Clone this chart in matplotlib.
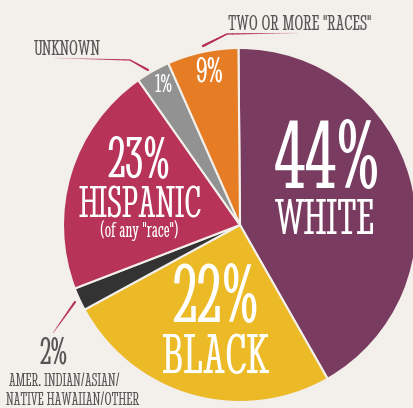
import numpy as np
import matplotlib
matplotlib.use('Agg')
import matplotlib.pyplot as plt

# slice sizes as drawn in the picture (share of the circle), labels as printed
groups = ['WHITE', 'BLACK', 'AMER. INDIAN/ASIAN/\nNATIVE HAWAIIAN/OTHER', 'HISPANIC', 'UNKNOWN', 'TWO OR MORE "RACES"']
shares = [41.9, 25.3, 2.1, 21.1, 3.1, 6.5]
labels = ['44%', '22%', '2%', '23%', '1%', '9%']
colors = ['#7a3b60', '#ebba26', '#333333', '#b73458', '#929292', '#e67d24']

bg = '#f3efea'
grey = '#555555'
pink = '#b73458'
W, H = 414, 408

fig = plt.figure(figsize=(W / 100, H / 100), dpi=100, facecolor=bg)
ax = fig.add_axes([0, 0, 1, 1])

def Y(y):
    return H - y

ax.pie(shares, colors=colors, startangle=90.5, counterclock=False,
       explode=[0.012, 0, 0, 0, 0, 0],
       center=(240, Y(225)), radius=177, frame=True,
       wedgeprops=dict(edgecolor=bg, linewidth=1.5))
ax.set_xlim(0, W)
ax.set_ylim(0, H)
ax.set_aspect('equal')
ax.axis('off')

fam = ['Stint Ultra Condensed', 'DejaVu Sans']

def inside(x, y, s, size):
    ax.text(x, Y(y), s, fontsize=size, color='white', ha='center', va='baseline', family=fam)

inside(327, 188, labels[0], 72)
inside(325, 234, groups[0], 38)
inside(215, 322, labels[1], 61)
inside(215, 373, groups[1], 42)
inside(139, 177, labels[3], 44)
inside(140, 218, groups[3], 33)
inside(139, 237, '(of any "race")', 16)
inside(209, 82, labels[5], 27)
inside(164, 92, labels[4], 20)

def outside(x, y, s, size):
    ax.text(x, Y(y), s, fontsize=size, color=grey, ha='center', va='baseline', family=fam)

outside(67, 55, groups[4], 16)
outside(300, 30, groups[5], 16)
outside(54, 363, labels[2], 28)
amer1, amer2 = groups[2].split('\n')
outside(64, 386, amer1, 13)
outside(73, 405, amer2, 13)

# tapered leader lines
def leader(xs, ys, w0, w1):
    n = 12
    for i in range(len(xs) - 1):
        for k in range(n):
            t0 = (i + k / n) / (len(xs) - 1)
            t1 = (i + (k + 1) / n) / (len(xs) - 1)
            xa = xs[i] + (xs[i + 1] - xs[i]) * k / n
            xb = xs[i] + (xs[i + 1] - xs[i]) * (k + 1) / n
            ya = ys[i] + (ys[i + 1] - ys[i]) * k / n
            yb = ys[i] + (ys[i + 1] - ys[i]) * (k + 1) / n
            w = w0 + (w1 - w0) * (t0 + t1) / 2
            ax.plot([xa, xb], [Y(ya), Y(yb)], color=pink, lw=w, solid_capstyle='round',
                    alpha=min(1, 0.25 + w))

leader([55, 130, 148], [58, 60, 70], 0.2, 1.6)
leader([297, 227, 203], [33, 34, 46], 0.2, 1.8)
leader([75, 53], [302, 333], 1.6, 0.4)

fig.savefig('out.png', dpi=100, facecolor=bg)
